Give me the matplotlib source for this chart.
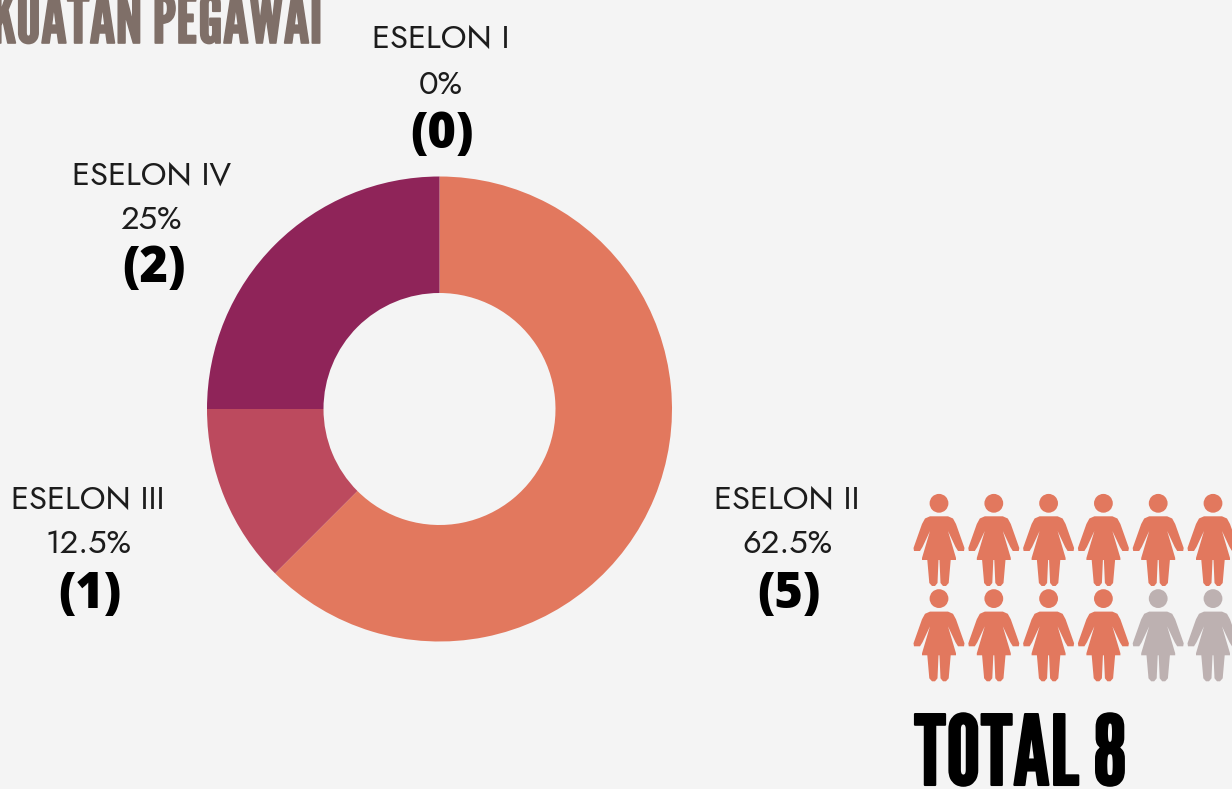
import numpy as np
import matplotlib
matplotlib.use("Agg")
import matplotlib.pyplot as plt
import matplotlib.patheffects as pe
from matplotlib.patches import Circle, Polygon

# chart data
categories = ['ESELON I', 'ESELON II', 'ESELON III', 'ESELON IV']
percents = ['0%', '62.5%', '12.5%', '25%']
counts = [0, 5, 1, 2]
colors = ['#D9D9D9', '#E2785E', '#BC4A5E', '#8F2459']
title = 'KEKUATAN PEGAWAI'
total_label = 'TOTAL 8'
n_icons = 12
n_icons_filled = 10

BG = '#F4F4F4'
LABEL_FONT = ['Jost', 'DejaVu Sans']
COUNT_FONT = ['Open Sans', 'DejaVu Sans']
HEAD_FONT = ['League Gothic', 'DejaVu Sans']
H = 789


def draw_person(ax, cx, top, color):
    # half outline, mirrored around cx (pixels, y going down from head top)
    half = [(0, 23.3), (9, 23.3), (14, 25.5), (17, 31), (25.5, 55), (25, 58),
            (19, 58), (16.5, 54), (9, 38), (17, 65), (17, 67), (11.7, 67),
            (9.7, 90), (7, 93), (4, 93), (1.5, 90), (0.5, 67), (0, 67)]
    half = np.array(half)
    left = half[::-1] * [-1, 1]
    pts = np.vstack([half, left])
    pts = np.column_stack([cx + pts[:, 0], H - (top + pts[:, 1])])
    ax.add_patch(Polygon(pts, closed=True, fc=color, ec='none'))
    ax.add_patch(Circle((cx, H - (top + 10.3)), 9.4, fc=color, ec='none'))


fig = plt.figure(figsize=(12.32, 7.89), dpi=100, facecolor=BG)
ax = fig.add_axes([0, 0, 1, 1])

ax.pie(counts[1:], colors=colors[1:], startangle=90, counterclock=False,
       center=(439.5, H - 409), radius=232.5, frame=True,
       wedgeprops=dict(width=116.5, linewidth=0))
ax.set_xlim(0, 1232)
ax.set_ylim(0, H)
ax.set_aspect('auto')
ax.axis('off')

# x, y of the three lines of each label
label_pos = [(440.5, 39, 85, 135), (787, 500, 544, 595),
             (88, 500, 544, 595), (151.5, 176, 220, 269)]
for i, name in enumerate(categories):
    x, y1, y2, y3 = label_pos[i]
    ax.text(x, H - y1, name, fontsize=23.5, family=LABEL_FONT,
            color='#1C1C1C', ha='center', va='center')
    ax.text(x, H - y2, percents[i], fontsize=23.5, family=LABEL_FONT,
            color='#1C1C1C', ha='center', va='center')
    ax.text(x + 2, H - y3, '(%d)' % counts[i], fontsize=35, family=COUNT_FONT,
            weight=800, color='black', ha='center', va='center')

for i in range(n_icons):
    row, col = divmod(i, 6)
    c = '#E2785E' if i < n_icons_filled else '#BDB1B1'
    draw_person(ax, 939 + col * 54.8, 493 + row * 95.3, c)

ax.text(323, H - 43, title, fontsize=48.5, family=HEAD_FONT, color='#7F6F68',
        ha='right', va='baseline',
        path_effects=[pe.withStroke(linewidth=1.2, foreground='#7F6F68')])
ax.text(914, H - 785, total_label, fontsize=69.5, family=HEAD_FONT, color='black',
        ha='left', va='baseline',
        path_effects=[pe.withStroke(linewidth=1.5, foreground='black')])

fig.savefig('out.png', dpi=100, facecolor=BG)
